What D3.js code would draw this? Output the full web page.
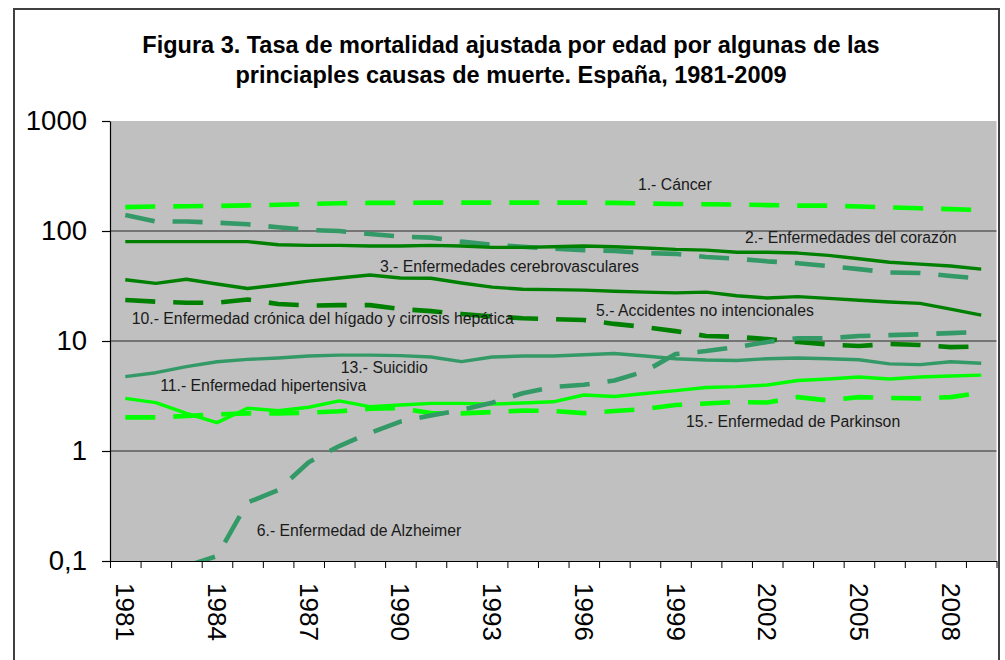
<!DOCTYPE html>
<html><head><meta charset="utf-8">
<script src="https://cdn.jsdelivr.net/npm/d3@7"></script>
<style>
body{margin:0;background:#fff}
svg{display:block;font-family:"Liberation Sans",Arial,Helvetica,sans-serif}
</style>
</head><body>
<svg id="chart" width="1005" height="660"></svg>
<script>
// ---------- data ----------
const years = [1981,1982,1983,1984,1985,1986,1987,1988,1989,1990,1991,1992,1993,1994,1995,
               1996,1997,1998,1999,2000,2001,2002,2003,2004,2005,2006,2007,2008,2009];
const xLabelYears = [1981,1984,1987,1990,1993,1996,1999,2002,2005,2008];
const yTickValues = [0.1, 1, 10, 100, 1000];
const yTickLabels = ["0,1", "1", "10", "100", "1000"];
const titleLines = ["Figura 3. Tasa de mortalidad ajustada por edad por algunas de las",
                    "princiaples causas de muerte. España, 1981-2009"];

const cancer       = [165,167,168,169,171,173,176,179,180,180,181,181,181,181,181,181,180,178,176,175,174,172,170,170,167,164,161,158,155];
const corazon      = [80,80,80,80,80,75,74,74,73,73,74,73,71,71,72,73,72,70,68,67,64,64,63,60,56,52,50,48,45];
const cerebro      = [140,122,122,119,115,108,102,100,94,89,87,80,75,72,69,67,66,63,62,58,56,53,51,48,45,42,41.5,39,37];
const accidentes   = [36,33.4,36.4,33,30,32.3,35,37.4,39.8,37.4,37.2,33.7,30.9,29.5,29.3,29,28.3,27.8,27.4,27.8,25.8,24.6,25.3,24.4,23.5,22.6,22,19.5,17.2];
const higado       = [23.6,22.8,22.3,22.3,23.8,21.7,21,21.2,21.2,19.5,18.7,17.6,16.7,16.1,15.8,15.5,14.3,13.4,12.3,11.1,10.9,10.4,9.8,9.3,9.0,9.4,9.2,8.8,8.9];
const suicidio     = [4.74,5.15,5.84,6.48,6.8,7.0,7.3,7.44,7.44,7.37,7.15,6.5,7.15,7.3,7.3,7.5,7.7,7.3,6.9,6.72,6.65,6.9,7.0,6.9,6.75,6.2,6.1,6.48,6.28];
const hipertensiva = [3.01,2.75,2.2,1.81,2.45,2.32,2.5,2.86,2.53,2.62,2.71,2.71,2.67,2.73,2.8,3.23,3.13,3.33,3.54,3.78,3.85,3.98,4.37,4.51,4.7,4.51,4.7,4.8,4.9];
const parkinson    = [2.02,2.02,2.08,2.15,2.2,2.2,2.23,2.3,2.42,2.45,2.21,2.2,2.26,2.33,2.31,2.21,2.31,2.41,2.62,2.7,2.79,2.76,3.09,2.88,3.09,3.03,3.01,3.09,3.39];
const alzheimer    = [null,null,0.09,0.111,0.34,0.44,0.79,1.11,1.46,1.85,2.1,2.36,2.75,3.35,3.82,4.0,4.37,5.3,7.6,8.1,8.8,9.8,10.6,10.6,11.1,11.3,11.5,11.8,12.1];

// series label texts and their anchor (year, value) in data space
const labelTexts  = ["1.- Cáncer","2.- Enfermedades del corazón","3.- Enfermedades cerebrovasculares",
                     "10.- Enfermedad crónica del hígado y cirrosis hepática","5.- Accidentes no intencionales",
                     "13.- Suicidio","11.- Enfermedad hipertensiva","6.- Enfermedad de Alzheimer","15.- Enfermedad de Parkinson"];
const labelYears  = [1997.77,2001.27,1989.33,1981.21,1996.40,1988.05,1982.14,1985.30,1999.34];
const labelValues = [236,78.3,42.7,14.27,17.0,5.09,3.53,0.169,1.64];

// ---------- layout ----------
const plot = {left:110, right:996.5, top:121, bottom:561};
const svg = d3.select("#chart");

const x = d3.scaleLinear().domain([years[0]-0.5, years[years.length-1]+0.5]).range([plot.left, plot.right]);
const y = d3.scaleLog().domain([0.1, 1000]).range([plot.bottom, plot.top]);

// outer frame
svg.append("rect").attr("x",14).attr("y",9).attr("width",985).attr("height",720)
  .attr("fill","#fff").attr("stroke","#404040").attr("stroke-width",2);

// title
svg.append("g").selectAll("text").data(titleLines).join("text")
  .attr("x",511).attr("y",(d,i)=>53+i*30)
  .attr("text-anchor","middle").attr("font-weight","bold").attr("font-size",23.5)
  .attr("fill","#000").text(d=>d);

// plot background
svg.append("rect").attr("x",plot.left).attr("y",plot.top)
  .attr("width",plot.right-plot.left).attr("height",plot.bottom-plot.top).attr("fill","#c0c0c0");

// gridlines
svg.append("g").selectAll("line").data(yTickValues.filter(v=>v>0.1 && v<1000)).join("line")
  .attr("x1",plot.left).attr("x2",plot.right).attr("y1",d=>y(d)).attr("y2",d=>y(d))
  .attr("stroke","#2a2a2a").attr("stroke-width",1.2);

// y axis
const yAxis = svg.append("g").attr("transform",`translate(${plot.left},0)`)
  .call(d3.axisLeft(y).tickValues(yTickValues).tickFormat((d,i)=>yTickLabels[i]).tickSize(8).tickSizeOuter(0).tickPadding(15));
yAxis.selectAll("text").attr("font-size",27.5).attr("fill","#000").attr("font-family","Liberation Sans,Arial,sans-serif");
yAxis.select(".domain").attr("stroke","#000").attr("stroke-width",1.2);
yAxis.selectAll(".tick line").attr("stroke","#000").attr("stroke-width",1.2);

// x axis (ticks between categories)
const boundaries = d3.range(years.length+1).map(i=>years[0]-0.5+i);
const xAxis = svg.append("g").attr("transform",`translate(0,${plot.bottom})`)
  .call(d3.axisBottom(x).tickValues(boundaries).tickFormat("").tickSize(7).tickSizeOuter(0));
xAxis.select(".domain").attr("stroke","#000").attr("stroke-width",1.2);
xAxis.selectAll(".tick line").attr("stroke","#000").attr("stroke-width",1);

svg.append("g").selectAll("text").data(xLabelYears).join("text")
  .attr("transform",d=>`translate(${x(d)},583) rotate(90)`)
  .attr("text-anchor","start").attr("dominant-baseline","central")
  .attr("font-size",26).attr("fill","#000").text(d=>d);

// clip
svg.append("clipPath").attr("id","clip").append("rect")
  .attr("x",plot.left).attr("y",plot.top).attr("width",plot.right-plot.left).attr("height",plot.bottom-plot.top);

const BRIGHT = "#00ff00", DARK = "#008000", SEA = "#339966";
const series = [
  {values:cancer, color:BRIGHT, dashed:true},
  {values:cerebro, color:SEA, dashed:true},
  {values:corazon, color:DARK, dashed:false},
  {values:accidentes, color:DARK, dashed:false},
  {values:higado, color:DARK, dashed:true},
  {values:suicidio, color:SEA, dashed:false},
  {values:hipertensiva, color:BRIGHT, dashed:false},
  {values:parkinson, color:BRIGHT, dashed:true},
  {values:alzheimer, color:SEA, dashed:true}
];

const line = d3.line().defined(d=>d.v!=null).x(d=>x(d.year)).y(d=>y(d.v));
const lineG = svg.append("g").attr("clip-path","url(#clip)");
lineG.selectAll("path").data(series).join("path")
  .attr("d",s=>line(s.values.map((v,i)=>({year:years[i], v}))))
  .attr("fill","none").attr("stroke",s=>s.color)
  .attr("stroke-width",s=>s.dashed?4.6:3.4)
  .attr("stroke-dasharray",s=>s.dashed?"30,18":null)
  .attr("stroke-linejoin","round").attr("stroke-linecap","butt");

// series labels
svg.append("g").selectAll("text").data(labelTexts).join("text")
  .attr("x",(d,i)=>x(labelYears[i])).attr("y",(d,i)=>y(labelValues[i]))
  .attr("font-size",15.8).attr("fill","#1a1a1a").text(d=>d);
</script>
</body></html>
